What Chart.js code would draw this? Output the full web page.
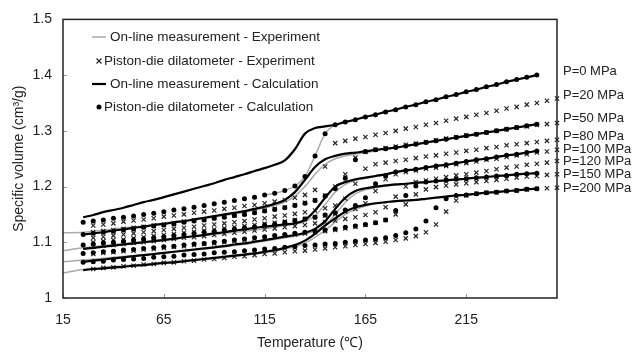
<!DOCTYPE html>
<html>
<head>
<meta charset="utf-8">
<script src="https://cdn.jsdelivr.net/npm/chart.js@4.4.0/dist/chart.umd.min.js"></script>
<style>
html, body { margin: 0; padding: 0; background: #fff; }
</style>
</head>
<body>
<canvas id="pvtChart" width="633" height="353"></canvas>
<script>
// axis ticks
const xTicks = [15, 65, 115, 165, 215];
const yTicks = [1, 1.1, 1.2, 1.3, 1.4, 1.5];
const yTickLabels = ['1', '1.1', '1.2', '1.3', '1.4', '1.5'];

// temperatures (deg C)
const calcT = [25,30,35,40,45,50,55,60,65,70,75,80,85,90,95,100,105,110,115,120,125,130,135,140,145,150,155,160,165,170,175,180,185,190,195,200,205,210,215,220,225,230,235,240,245,250];
const expT = [30,35,40,45,50,55,60,65,70,75,80,85,90,95,100,105,110,115,120,125,130,135,140,145,150,155,160,165,170,175,180,185,190,195,200,205,210,215,220,225,230,235,240,245,250,255,260];
const onlineT = [15,25,40,60,80,100,110,120,125,130,135,140,145,150,155,160,165,170,175,180,190,200,225,250];
const onlineP0T = [115,120,125,130,135,140,145,150,160];

// On-line measurement - Calculation (black lines)
const calcP0 = [1.145,1.149,1.154,1.158,1.162,1.167,1.172,1.176,1.181,1.186,1.191,1.196,1.201,1.206,1.212,1.217,1.222,1.228,1.233,1.239,1.247,1.267,1.295,1.305,1.308,1.311,1.316,1.320,1.325,1.329,1.334,1.338,1.343,1.347,1.352,1.356,1.361,1.365,1.370,1.374,1.379,1.383,1.388,1.392,1.396,1.400];
const calcP50 = [1.114,1.116,1.118,1.121,1.123,1.126,1.128,1.131,1.133,1.136,1.138,1.141,1.144,1.147,1.150,1.153,1.156,1.160,1.164,1.169,1.176,1.190,1.212,1.235,1.249,1.255,1.259,1.261,1.263,1.266,1.268,1.270,1.273,1.276,1.279,1.282,1.285,1.288,1.291,1.294,1.297,1.300,1.303,1.306,1.309,1.312];
const calcP100 = [1.088,1.090,1.092,1.094,1.096,1.098,1.100,1.102,1.104,1.106,1.109,1.111,1.113,1.116,1.118,1.121,1.123,1.126,1.128,1.130,1.132,1.134,1.140,1.157,1.180,1.200,1.208,1.213,1.216,1.219,1.222,1.226,1.229,1.231,1.234,1.237,1.239,1.242,1.245,1.248,1.250,1.253,1.256,1.258,1.261,1.264];
const calcP150 = [1.065,1.067,1.069,1.071,1.073,1.075,1.077,1.079,1.081,1.083,1.085,1.087,1.089,1.091,1.093,1.096,1.098,1.101,1.104,1.107,1.110,1.113,1.117,1.124,1.138,1.160,1.180,1.192,1.197,1.200,1.202,1.204,1.205,1.207,1.208,1.210,1.211,1.213,1.214,1.216,1.217,1.219,1.220,1.222,1.223,1.224];
const calcP200 = [1.050,1.052,1.053,1.055,1.056,1.058,1.059,1.061,1.063,1.064,1.066,1.068,1.070,1.072,1.074,1.076,1.078,1.080,1.083,1.086,1.090,1.095,1.103,1.115,1.130,1.143,1.155,1.163,1.167,1.170,1.172,1.174,1.175,1.176,1.178,1.180,1.182,1.184,1.185,1.187,1.189,1.190,1.192,1.193,1.195,1.196];

// Piston-die dilatometer - Calculation (dots)
const dotP0 = [1.136,1.138,1.140,1.143,1.145,1.147,1.150,1.152,1.155,1.158,1.160,1.163,1.166,1.169,1.172,1.175,1.178,1.181,1.185,1.188,1.193,1.201,1.218,1.255,1.295,1.311,1.316,1.320,1.325,1.329,1.334,1.338,1.343,1.347,1.352,1.356,1.361,1.365,1.370,1.374,1.379,1.383,1.388,1.392,1.396,1.400];
const dotP50 = [1.114,1.116,1.118,1.120,1.122,1.124,1.127,1.129,1.131,1.133,1.136,1.138,1.140,1.143,1.145,1.148,1.150,1.153,1.156,1.159,1.162,1.166,1.170,1.175,1.183,1.196,1.215,1.248,1.263,1.266,1.268,1.270,1.273,1.276,1.279,1.282,1.285,1.288,1.291,1.294,1.297,1.300,1.303,1.306,1.309,1.312];
const dotP100 = [1.095,1.097,1.099,1.100,1.102,1.104,1.106,1.108,1.110,1.112,1.114,1.116,1.118,1.120,1.122,1.124,1.126,1.128,1.131,1.133,1.136,1.139,1.142,1.145,1.149,1.153,1.158,1.166,1.180,1.205,1.220,1.226,1.229,1.231,1.234,1.237,1.239,1.242,1.245,1.248,1.250,1.253,1.256,1.258,1.261,1.264];
const dotP150 = [1.080,1.081,1.083,1.084,1.086,1.087,1.089,1.090,1.092,1.093,1.095,1.097,1.098,1.100,1.102,1.104,1.106,1.108,1.110,1.112,1.114,1.116,1.118,1.120,1.122,1.124,1.127,1.129,1.132,1.135,1.140,1.157,1.184,1.201,1.208,1.210,1.211,1.213,1.214,1.216,1.217,1.219,1.220,1.222,1.223,1.224];
const dotP200 = [1.064,1.065,1.066,1.068,1.069,1.070,1.071,1.073,1.074,1.075,1.077,1.078,1.079,1.081,1.082,1.083,1.085,1.086,1.088,1.089,1.091,1.092,1.094,1.095,1.097,1.098,1.100,1.102,1.104,1.106,1.108,1.112,1.117,1.124,1.138,1.162,1.178,1.184,1.185,1.187,1.189,1.190,1.192,1.193,1.195,1.196];

// Piston-die dilatometer - Experiment (crosses)
const expP20 = [1.130,1.132,1.134,1.137,1.139,1.141,1.143,1.146,1.148,1.150,1.153,1.155,1.157,1.160,1.162,1.165,1.167,1.170,1.173,1.176,1.180,1.185,1.194,1.236,1.278,1.282,1.286,1.289,1.293,1.296,1.300,1.304,1.307,1.311,1.314,1.318,1.322,1.325,1.329,1.332,1.336,1.340,1.343,1.347,1.350,1.354,1.358];
const expP50 = [1.118,1.120,1.122,1.124,1.126,1.128,1.130,1.132,1.134,1.137,1.139,1.141,1.143,1.146,1.148,1.151,1.154,1.157,1.160,1.163,1.167,1.171,1.176,1.184,1.200,1.222,1.252,1.262,1.266,1.269,1.272,1.275,1.277,1.280,1.283,1.286,1.289,1.292,1.294,1.297,1.300,1.303,1.306,1.308,1.311,1.312,1.314];
const expP80 = [1.108,1.110,1.112,1.114,1.116,1.118,1.120,1.122,1.124,1.126,1.128,1.130,1.132,1.134,1.136,1.138,1.141,1.143,1.146,1.148,1.151,1.154,1.157,1.161,1.166,1.178,1.205,1.232,1.240,1.243,1.246,1.248,1.251,1.254,1.256,1.259,1.261,1.264,1.266,1.269,1.271,1.274,1.276,1.278,1.280,1.282,1.284];
const expP100 = [1.100,1.102,1.104,1.105,1.107,1.109,1.111,1.113,1.115,1.117,1.119,1.121,1.123,1.125,1.127,1.129,1.131,1.133,1.135,1.137,1.140,1.142,1.145,1.148,1.151,1.155,1.160,1.170,1.192,1.213,1.222,1.226,1.229,1.232,1.234,1.237,1.240,1.242,1.245,1.248,1.250,1.253,1.256,1.258,1.261,1.263,1.266];
const expP120 = [1.092,1.094,1.095,1.097,1.099,1.100,1.102,1.104,1.106,1.108,1.109,1.111,1.113,1.115,1.117,1.119,1.121,1.123,1.125,1.127,1.129,1.131,1.134,1.136,1.139,1.142,1.145,1.149,1.154,1.163,1.182,1.200,1.208,1.211,1.214,1.217,1.220,1.222,1.225,1.228,1.231,1.234,1.236,1.239,1.241,1.243,1.246];
const expP150 = [1.079,1.081,1.082,1.084,1.085,1.087,1.088,1.090,1.092,1.093,1.095,1.097,1.098,1.100,1.102,1.104,1.106,1.108,1.110,1.112,1.114,1.116,1.118,1.120,1.122,1.125,1.128,1.131,1.135,1.140,1.150,1.168,1.186,1.195,1.199,1.202,1.204,1.206,1.208,1.210,1.212,1.214,1.216,1.218,1.219,1.221,1.222];
const expP200 = [1.052,1.054,1.055,1.057,1.058,1.060,1.061,1.063,1.064,1.066,1.067,1.069,1.070,1.072,1.074,1.075,1.077,1.079,1.080,1.082,1.084,1.085,1.087,1.089,1.091,1.093,1.095,1.097,1.099,1.101,1.104,1.107,1.111,1.118,1.132,1.155,1.175,1.184,1.187,1.189,1.190,1.192,1.193,1.195,1.196,1.197,1.198];

// On-line measurement - Experiment (grey lines)
const onP0 = [1.185,1.188,1.193,1.201,1.218,1.255,1.295,1.311,1.320];
const onP50 = [1.117,1.118,1.124,1.131,1.140,1.151,1.158,1.166,1.172,1.183,1.200,1.222,1.240,1.250,1.255,1.258,1.261,1.264,1.267,1.270,1.276,1.282,1.297,1.312];
const onP100 = [1.085,1.090,1.096,1.103,1.110,1.118,1.122,1.127,1.130,1.133,1.137,1.148,1.168,1.190,1.204,1.211,1.215,1.218,1.221,1.225,1.231,1.237,1.250,1.264];
const onP150 = [1.065,1.068,1.073,1.079,1.086,1.094,1.099,1.105,1.108,1.111,1.115,1.120,1.131,1.150,1.172,1.187,1.194,1.198,1.201,1.203,1.206,1.209,1.217,1.224];
const onP200 = [1.045,1.051,1.056,1.062,1.068,1.075,1.079,1.084,1.088,1.092,1.099,1.109,1.122,1.136,1.150,1.159,1.165,1.169,1.171,1.173,1.176,1.180,1.189,1.196];

const legendLabels = ['On-line measurement - Experiment', 'Piston-die dilatometer - Experiment', 'On-line measurement - Calculation', 'Piston-die dilatometer - Calculation'];
const pressureLabels = ['P=0 MPa', 'P=20 MPa', 'P=50 MPa', 'P=80 MPa', 'P=100 MPa', 'P=120 MPa', 'P=150 MPa', 'P=200 MPa'];

const FONT = "'Liberation Sans', Arial, sans-serif";

function pts(xs, ys) {
    return ys.map((y, i) => ({ x: xs[i], y: y }));
}

const datasets = [];

[dotP0, dotP50, dotP100, dotP150, dotP200].forEach(v => {
    datasets.push({
        data: pts(calcT, v), showLine: false, order: 1,
        pointStyle: 'circle', pointRadius: 2.5, pointBackgroundColor: '#000', pointBorderWidth: 0
    });
});

[calcP0, calcP50, calcP100, calcP150, calcP200].forEach(v => {
    datasets.push({
        data: pts(calcT, v), showLine: true, order: 2, pointRadius: 0,
        borderColor: '#000', borderWidth: 2.2, cubicInterpolationMode: 'monotone'
    });
});

[expP20, expP50, expP80, expP100, expP120, expP150, expP200].forEach(v => {
    datasets.push({
        data: pts(expT, v), showLine: false, order: 3, clip: 6,
        pointStyle: 'crossRot', pointRadius: 3, pointBorderColor: '#262626', pointBorderWidth: 1.2
    });
});

datasets.push({
    data: pts(onlineP0T, onP0), showLine: true, order: 4, pointRadius: 0,
    borderColor: '#aaaaaa', borderWidth: 1.5, cubicInterpolationMode: 'monotone'
});
[onP50, onP100, onP150, onP200].forEach(v => {
    datasets.push({
        data: pts(onlineT, v), showLine: true, order: 4, pointRadius: 0,
        borderColor: '#aaaaaa', borderWidth: 1.5, cubicInterpolationMode: 'monotone'
    });
});

const decorPlugin = {
    id: 'decor',
    afterDraw(chart) {
        const ctx = chart.ctx;
        const a = chart.chartArea;
        const xs = chart.scales.x, ys = chart.scales.y;
        ctx.save();

        // small inward tick marks
        ctx.strokeStyle = '#999';
        ctx.lineWidth = 1;
        xTicks.forEach(t => {
            const px = Math.round(xs.getPixelForValue(t)) + 0.5;
            ctx.beginPath(); ctx.moveTo(px, a.bottom); ctx.lineTo(px, a.bottom - 4); ctx.stroke();
        });
        yTicks.forEach(t => {
            const py = Math.round(ys.getPixelForValue(t)) + 0.5;
            ctx.beginPath(); ctx.moveTo(a.left, py); ctx.lineTo(a.left + 4, py); ctx.stroke();
        });

        // plot frame
        ctx.strokeStyle = '#222';
        ctx.lineWidth = 1.5;
        ctx.strokeRect(a.left, a.top, a.right - a.left, a.bottom - a.top);

        // legend inside plot
        ctx.font = '13.5px ' + FONT;
        ctx.fillStyle = '#222';
        ctx.textBaseline = 'middle';
        ctx.textAlign = 'left';
        const rows = [37, 61, 84, 107];
        // grey line
        ctx.strokeStyle = '#aaaaaa'; ctx.lineWidth = 1.5;
        ctx.beginPath(); ctx.moveTo(92, rows[0]); ctx.lineTo(106, rows[0]); ctx.stroke();
        ctx.fillText(legendLabels[0], 110, rows[0]);
        // cross
        ctx.strokeStyle = '#262626'; ctx.lineWidth = 1.2;
        ctx.beginPath();
        ctx.moveTo(96.5, rows[1] - 2.5); ctx.lineTo(101.5, rows[1] + 2.5);
        ctx.moveTo(101.5, rows[1] - 2.5); ctx.lineTo(96.5, rows[1] + 2.5);
        ctx.stroke();
        ctx.fillText(legendLabels[1], 104, rows[1]);
        // black line
        ctx.strokeStyle = '#000'; ctx.lineWidth = 2.2;
        ctx.beginPath(); ctx.moveTo(92, rows[2]); ctx.lineTo(106, rows[2]); ctx.stroke();
        ctx.fillText(legendLabels[2], 110, rows[2]);
        // dot
        ctx.fillStyle = '#000';
        ctx.beginPath(); ctx.arc(99, rows[3], 2.5, 0, Math.PI * 2); ctx.fill();
        ctx.fillStyle = '#222';
        ctx.fillText(legendLabels[3], 104, rows[3]);

        // pressure labels right of the plot
        ctx.font = '13px ' + FONT;
        const labelY = [71, 95, 118, 136, 149, 161, 174, 188];
        pressureLabels.forEach((txt, i) => ctx.fillText(txt, a.right + 6, labelY[i]));

        ctx.restore();
    }
};

new Chart(document.getElementById('pvtChart'), {
    type: 'scatter',
    data: { datasets: datasets },
    options: {
        responsive: false,
        animation: false,
        events: [],
        layout: { padding: { top: 18, right: 76, left: 0, bottom: 0 } },
        plugins: { legend: { display: false }, tooltip: { enabled: false } },
        scales: {
            x: {
                type: 'linear', min: 15, max: 260,
                afterBuildTicks: scale => { scale.ticks = xTicks.map(v => ({ value: v })); },
                afterFit: scale => { scale.height = 55; },
                grid: { display: false, drawTicks: false },
                border: { display: false },
                ticks: { padding: 14, color: '#222', font: { family: FONT, size: 14 }, maxRotation: 0 },
                title: { display: true, text: 'Temperature (\u2103)', color: '#222', font: { family: FONT, size: 14 }, padding: { top: 0, bottom: 1 } }
            },
            y: {
                type: 'linear', min: 1, max: 1.5,
                afterBuildTicks: scale => { scale.ticks = yTicks.map(v => ({ value: v })); },
                afterFit: scale => { scale.width = 63; },
                grid: { display: false, drawTicks: false },
                border: { display: false },
                ticks: {
                    padding: 11, color: '#222', font: { family: FONT, size: 14 },
                    callback: (v, i) => yTickLabels[i]
                },
                title: { display: true, text: 'Specific volume (cm\u00b3/g)', color: '#222', font: { family: FONT, size: 14 }, padding: { top: 11, bottom: 0 } }
            }
        }
    },
    plugins: [decorPlugin]
});
</script>
</body>
</html>
